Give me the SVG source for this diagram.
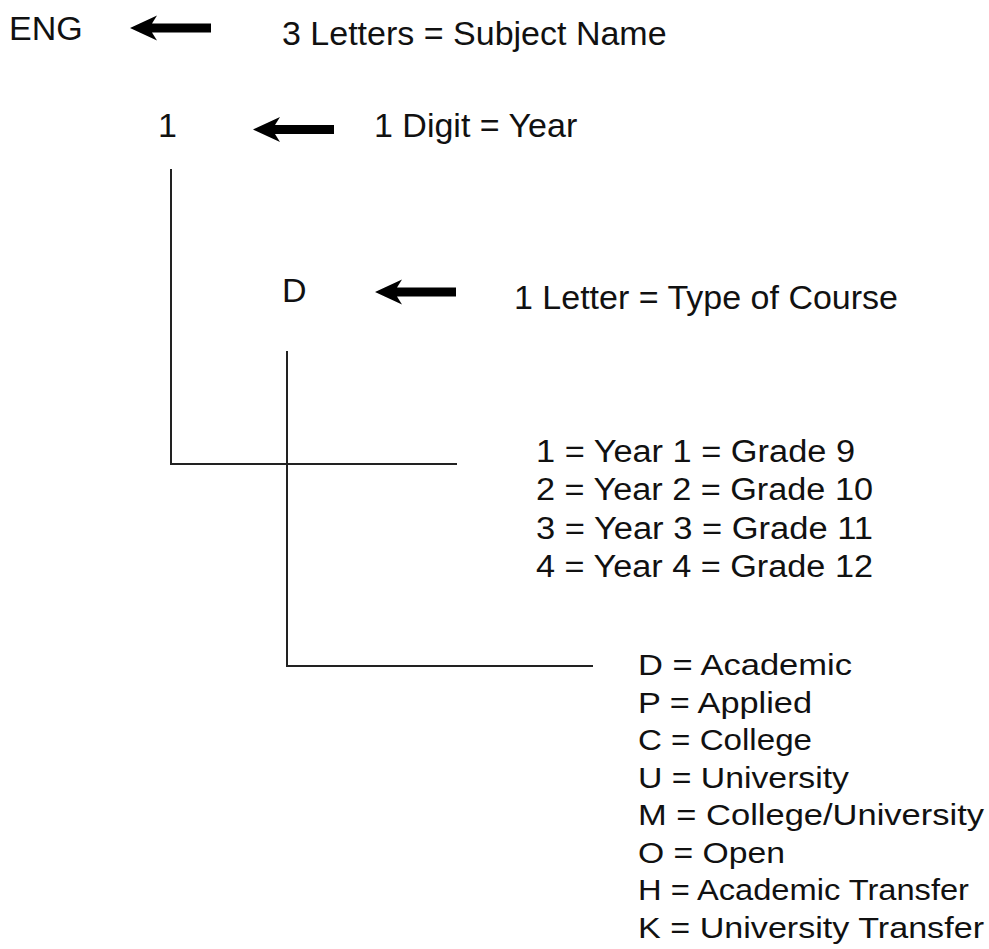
<svg xmlns="http://www.w3.org/2000/svg" width="989" height="949" viewBox="0 0 989 949">
<style>
text{font-family:"Liberation Sans",Arial,Helvetica,sans-serif;fill:#111}
.big{font-size:34px}
.yr{font-size:31px}
.ty{font-size:29.5px}
.ln{fill:none;stroke:#222;stroke-width:2}
.arr{fill:#000}
</style>
<defs>
<path id="arrow" d="M0,0 L27,-12.5 L22,-4.5 L81,-4.5 L81,4.5 L22,4.5 L27,12.5 Z"/>
</defs>
<rect width="989" height="949" fill="#fff"/>
<g id="connectors">
<use href="#arrow" class="arr" x="130" y="28"/>
<use href="#arrow" class="arr" x="253" y="129.5"/>
<use href="#arrow" class="arr" x="375" y="292"/>
<path class="ln" d="M171,169 V464 H457"/>
<path class="ln" d="M287,351 V666 H593"/>
</g>
<g id="subject"><text class="big" x="9" y="40">ENG</text></g>
<g id="subject-label"><text class="big" x="282" y="45">3 Letters = Subject Name</text></g>
<g id="year"><text class="big" x="158" y="137">1</text></g>
<g id="year-label"><text class="big" x="374" y="137">1 Digit = Year</text></g>
<g id="type"><text class="big" x="282" y="302">D</text></g>
<g id="type-label"><text class="big" x="514" y="309">1 Letter = Type of Course</text></g>
<g id="year-list">
<text class="yr" x="536" y="462" textLength="319" lengthAdjust="spacingAndGlyphs">1 = Year 1 = Grade 9</text>
<text class="yr" x="536" y="500.3" textLength="337" lengthAdjust="spacingAndGlyphs">2 = Year 2 = Grade 10</text>
<text class="yr" x="536" y="538.6" textLength="337" lengthAdjust="spacingAndGlyphs">3 = Year 3 = Grade 11</text>
<text class="yr" x="536" y="577" textLength="337" lengthAdjust="spacingAndGlyphs">4 = Year 4 = Grade 12</text>
</g>
<g id="type-list">
<text class="ty" x="638" y="675" textLength="214" lengthAdjust="spacingAndGlyphs">D = Academic</text>
<text class="ty" x="638" y="712.5" textLength="174" lengthAdjust="spacingAndGlyphs">P = Applied</text>
<text class="ty" x="638" y="750" textLength="174" lengthAdjust="spacingAndGlyphs">C = College</text>
<text class="ty" x="638" y="787.5" textLength="211" lengthAdjust="spacingAndGlyphs">U = University</text>
<text class="ty" x="638" y="825" textLength="346" lengthAdjust="spacingAndGlyphs">M = College/University</text>
<text class="ty" x="638" y="862.5" textLength="147" lengthAdjust="spacingAndGlyphs">O = Open</text>
<text class="ty" x="638" y="900" textLength="331" lengthAdjust="spacingAndGlyphs">H = Academic Transfer</text>
<text class="ty" x="638" y="937.5" textLength="346" lengthAdjust="spacingAndGlyphs">K = University Transfer</text>
</g>
</svg>
